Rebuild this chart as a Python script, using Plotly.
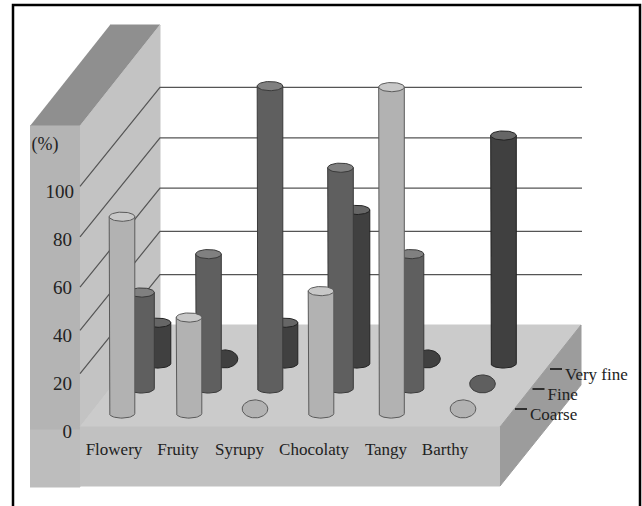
import numpy as np
import plotly.graph_objects as go

# ---- data ----
categories = ["Flowery", "Fruity", "Syrupy", "Chocolaty", "Tangy", "Barthy"]
series_names = ["Coarse", "Fine", "Very fine"]
coarse = [82, 40, 0, 51, 136, 0]
fine = [40, 56, 126, 92, 56, 0]
very_fine = [17, 0, 17, 64, 0, 95]
tick_values = [0, 20, 40, 60, 80, 100]
grid_levels = [21, 39, 57, 78, 99]

# ---- oblique projection (plot units equal pixels) ----
K = 2.4                      # px per percent
CAT_X = [122, 189, 255, 321, 391.5, 463]
LABEL_X = [114, 178, 239.5, 314, 386, 445]
DEPTH_DX = [0, 19.5, 36]
DEPTH_DY = [0, 25, 50]
NUDGE = {(1, 2): -4.5, (2, 2): -6, (2, 5): 4.5}   # hand-placed columns in the original
BASE_Y = 413.5
RX, RY, RY_FLAT = 12.8, 4.6, 9

STYLE = [
    dict(body="#b2b2b2", cap="#c8c8c8", line="#5a5a5a"),
    dict(body="#5f5f5f", cap="#808080", line="#3a3a3a"),
    dict(body="#404040", cap="#666666", line="#222222"),
]

fig = go.Figure()


def poly(xs, ys, fill, line=None, width=1):
    fig.add_trace(go.Scatter(
        x=list(xs), y=list(ys), mode="lines", fill="toself", fillcolor=fill,
        line=dict(color=line or fill, width=width), hoverinfo="skip", showlegend=False))


def seg(xs, ys, color, width=1.2):
    fig.add_trace(go.Scatter(
        x=list(xs), y=list(ys), mode="lines", line=dict(color=color, width=width),
        hoverinfo="skip", showlegend=False))


def text(x, y, s, size, pos="middle center"):
    fig.add_trace(go.Scatter(
        x=[x], y=[y], mode="text", text=[s], textposition=pos,
        textfont=dict(family="Liberation Serif", size=size, color="#222222"),
        hoverinfo="skip", showlegend=False))


# ---- the box ----
poly([30, 80, 160, 110], [126, 126, 25, 25], "#8f8f8f")               # wall top
poly([30, 80, 80, 30], [126, 126, 430, 430], "#b4b4b4")               # wall front
poly([80, 160, 160, 80], [126, 25, 325, 427], "#c3c3c3")              # wall side
poly([80, 160, 581, 500], [427, 325, 325, 427], "#cbcbcb")            # floor
poly([30, 80, 80, 30], [430, 430, 487, 487], "#bdbdbd")               # plinth left
poly([80, 500, 500, 80], [427, 427, 486, 486], "#c1c1c1")             # plinth front
poly([500, 581, 581, 500], [427, 325, 385, 486], "#9c9c9c")           # plinth side

# ---- grid lines: wall diagonal, then back horizontal ----
for lv in grid_levels:
    yb = 325 - lv * K
    seg([80, 160, 582], [yb + 99, yb, yb], "#555555")

# ---- cylinders, back row first ----
t = np.linspace(0, 2 * np.pi, 61)
arc = np.linspace(0, np.pi, 31)
all_series = [coarse, fine, very_fine]
for d in (2, 1, 0):
    st = STYLE[d]
    for i, v in enumerate(all_series[d]):
        cx = CAT_X[i] + DEPTH_DX[d] + NUDGE.get((d, i), 0)
        y0 = BASE_Y - DEPTH_DY[d]
        if v == 0:
            poly(cx + RX * np.cos(t), y0 - RY + RY_FLAT * np.sin(t), st["body"], st["line"])
            continue
        top = y0 - v * K
        bx = np.concatenate([[cx - RX], cx - RX * np.cos(arc), [cx + RX], [cx - RX]])
        by = np.concatenate([[top], y0 + RY * np.sin(arc), [top], [top]])
        poly(bx, by, st["body"], st["line"])
        poly(cx + RX * np.cos(t), top + RY * np.sin(t), st["cap"], st["line"])

# ---- text ----
for v in tick_values:
    text(74 if v == 100 else 72, 433 - v * K, str(v), 19, "middle left")
for i, c in enumerate(categories):
    text(LABEL_X[i], 451, c, 17)
text(45, 145, "(%)", 18)

# series labels with their leader ticks along the plinth edge
for d, name in enumerate(series_names):
    x1 = 515 + d * 17.5
    y1 = 409 - d * 20
    seg([x1, x1 + 12], [y1, y1], "#111111", 1.6)
    text(x1 + 15, y1 + 7, name, 17, "middle right")

# ---- frame ----
seg([13, 13, 640, 640], [506, 5, 5, 506], "#000000", 2.5)

fig.update_layout(
    width=642, height=506, margin=dict(l=0, r=0, t=0, b=0),
    paper_bgcolor="white", plot_bgcolor="white", showlegend=False,
    xaxis=dict(range=[0, 642], visible=False, fixedrange=True),
    yaxis=dict(range=[506, 0], visible=False, fixedrange=True),
)
fig.write_html("out.html", config={"displayModeBar": False},
               post_script="document.body.style.margin='0';document.documentElement.style.overflow='hidden';")
